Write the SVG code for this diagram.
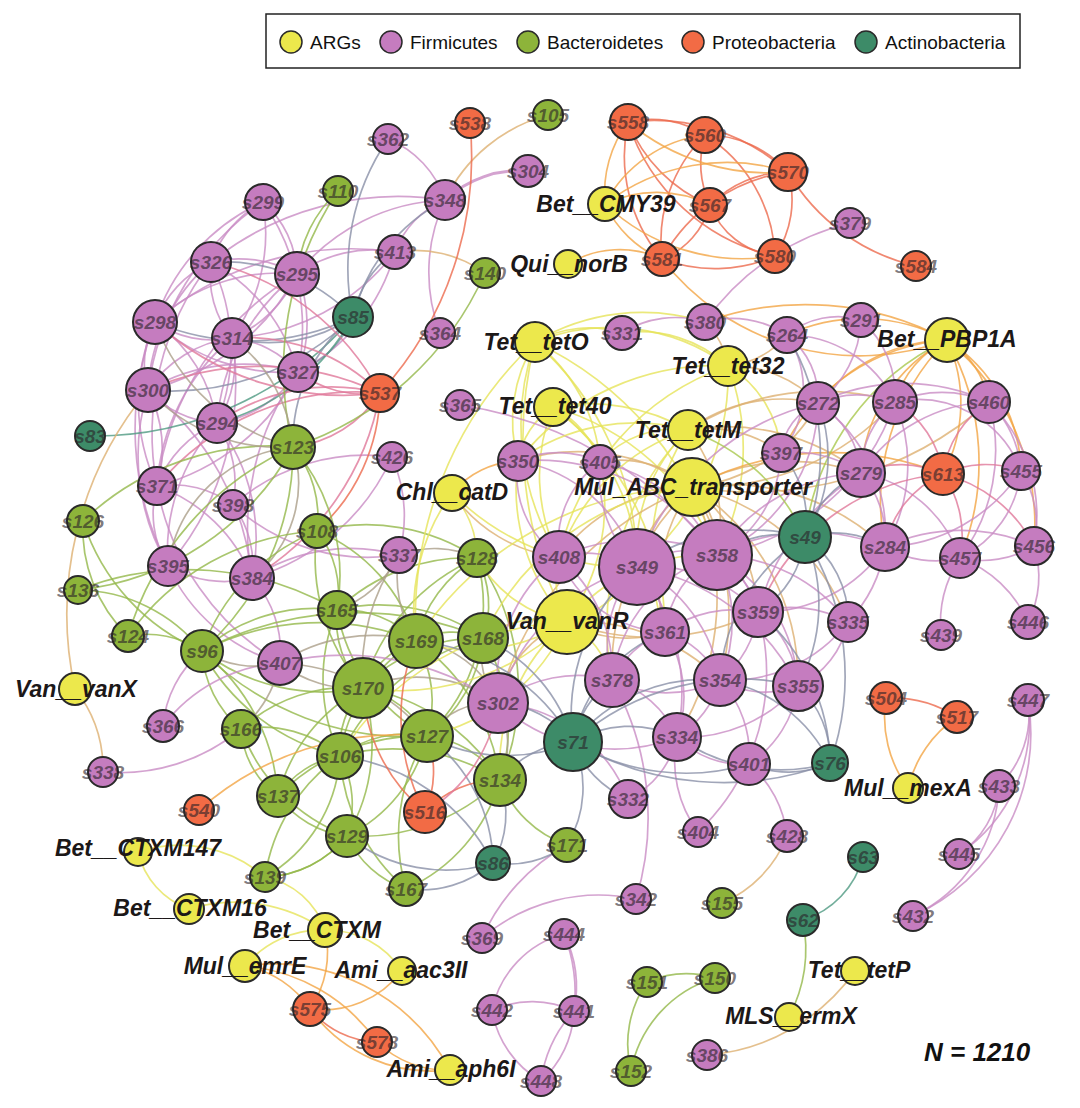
<svg xmlns="http://www.w3.org/2000/svg" width="1080" height="1108" viewBox="0 0 1080 1108">
<style>
.bg{fill:#fff}
.n circle{stroke:#2a2a2a;stroke-width:2}
.f circle{fill:#c57cbf}.b circle{fill:#8db43a}.p circle{fill:#f26b45}.a circle{fill:#3d8b68}.y circle{fill:#ece84c}
.n text{font-family:"Liberation Sans",Arial,sans-serif;font-weight:bold;font-style:italic;font-size:19px;fill:#2a2228;fill-opacity:.62;text-anchor:middle}
.y text{font-size:23px;fill:#1c1818;fill-opacity:1}
#edges path{fill:none;stroke-width:1.7;stroke-opacity:.8}
.ep{stroke:#c98cc4}.eg{stroke:#93b84a}.er{stroke:#ec6a4e}.eo{stroke:#f2a545}.ey{stroke:#e6e35a}.et{stroke:#ddb072}.ek{stroke:#8a90a8}.em{stroke:#ab9f8a}.eq{stroke:#e0789a}.ec{stroke:#4f9a82}.eyg{stroke:#a9c84e}
.leg text{font-family:"Liberation Sans",Arial,sans-serif;font-size:19px;fill:#111}
.leg circle{stroke:#2a2a2a;stroke-width:1.5}
.N{font-family:"Liberation Sans",Arial,sans-serif;font-weight:bold;font-style:italic;font-size:26px;fill:#111}
</style>
<rect class="bg" width="1080" height="1108"/>
<g id="legend" class="leg">
<rect x="266" y="14" width="754" height="54" fill="#fff" stroke="#222" stroke-width="1.5"/>
<circle cx="291" cy="42" r="11" fill="#ece84c"/><text x="310" y="49">ARGs</text>
<circle cx="391" cy="42" r="11" fill="#c57cbf"/><text x="410" y="49">Firmicutes</text>
<circle cx="528" cy="42" r="11" fill="#8db43a"/><text x="547" y="49">Bacteroidetes</text>
<circle cx="693" cy="42" r="11" fill="#f26b45"/><text x="712" y="49">Proteobacteria</text>
<circle cx="866" cy="42" r="11" fill="#3d8b68"/><text x="885" y="49">Actinobacteria</text>
</g>
<g id="edges">
<path class="ep" d="M263 202A110 110 0 0 0 211 262"/>
<path class="ep" d="M263 202A200 200 0 0 0 155 322"/>
<path class="ep" d="M263 202A180 180 0 0 1 232 338"/>
<path class="ep" d="M263 202A100 100 0 0 1 297 274"/>
<path class="ep" d="M263 202A220 220 0 0 1 298 372"/>
<path class="ep" d="M263 202A270 270 0 0 0 148 390"/>
<path class="ep" d="M211 262A110 110 0 0 0 155 322"/>
<path class="ep" d="M211 262A120 120 0 0 1 297 274"/>
<path class="ep" d="M211 262A100 100 0 0 0 232 338"/>
<path class="ep" d="M211 262A180 180 0 0 0 148 390"/>
<path class="ep" d="M211 262A180 180 0 0 1 298 372"/>
<path class="ep" d="M211 262A200 200 0 0 1 217 423"/>
<path class="ep" d="M211 262A280 280 0 0 0 157 486"/>
<path class="ep" d="M297 274A120 120 0 0 1 232 338"/>
<path class="ep" d="M297 274A180 180 0 0 0 155 322"/>
<path class="ep" d="M297 274A230 230 0 0 1 148 390"/>
<path class="ep" d="M297 274A130 130 0 0 1 298 372"/>
<path class="ep" d="M297 274A210 210 0 0 0 217 423"/>
<path class="ep" d="M297 274A290 290 0 0 0 157 486"/>
<path class="ep" d="M155 322A100 100 0 0 0 232 338"/>
<path class="ep" d="M155 322A90 90 0 0 0 148 390"/>
<path class="ep" d="M155 322A190 190 0 0 0 298 372"/>
<path class="ep" d="M155 322A150 150 0 0 1 217 423"/>
<path class="ep" d="M155 322A200 200 0 0 0 157 486"/>
<path class="ep" d="M155 322A300 300 0 0 0 168 566"/>
<path class="ep" d="M232 338A120 120 0 0 0 148 390"/>
<path class="ep" d="M232 338A100 100 0 0 1 298 372"/>
<path class="ep" d="M232 338A110 110 0 0 1 217 423"/>
<path class="ep" d="M232 338A210 210 0 0 0 157 486"/>
<path class="ep" d="M232 338A280 280 0 0 1 168 566"/>
<path class="ep" d="M148 390A100 100 0 0 0 217 423"/>
<path class="ep" d="M148 390A130 130 0 0 1 157 486"/>
<path class="ep" d="M148 390A220 220 0 0 0 168 566"/>
<path class="ep" d="M148 390A190 190 0 0 1 298 372"/>
<path class="ep" d="M148 390A270 270 0 0 1 252 578"/>
<path class="ep" d="M217 423A120 120 0 0 0 298 372"/>
<path class="ep" d="M217 423A110 110 0 0 0 157 486"/>
<path class="ep" d="M217 423A110 110 0 0 1 233 505"/>
<path class="ep" d="M217 423A190 190 0 0 0 168 566"/>
<path class="ep" d="M217 423A190 190 0 0 1 252 578"/>
<path class="ep" d="M157 486A100 100 0 0 0 168 566"/>
<path class="ep" d="M157 486A160 160 0 0 1 252 578"/>
<path class="ep" d="M157 486A100 100 0 0 1 233 505"/>
<path class="ep" d="M168 566A110 110 0 0 0 252 578"/>
<path class="ep" d="M233 505A100 100 0 0 1 252 578"/>
<path class="ep" d="M298 372A270 270 0 0 0 252 578"/>
<path class="ep" d="M298 372A220 220 0 0 1 157 486"/>
<path class="ep" d="M233 505A200 200 0 0 1 392 457"/>
<path class="ep" d="M252 578A220 220 0 0 0 392 457"/>
<path class="ep" d="M157 486A260 260 0 0 0 280 663"/>
<path class="ep" d="M168 566A180 180 0 0 0 280 663"/>
<path class="ep" d="M252 578A110 110 0 0 1 280 663"/>
<path class="ep" d="M252 578A180 180 0 0 1 399 555"/>
<path class="ep" d="M233 505A200 200 0 0 0 399 555"/>
<path class="ep" d="M445 200A100 100 0 0 0 388 139"/>
<path class="ep" d="M445 200A110 110 0 0 1 528 171" style="stroke-width:3"/>
<path class="et" d="M445 200A160 160 0 0 1 548 115"/>
<path class="ep" d="M445 200A90 90 0 0 0 395 252"/>
<path class="ep" d="M445 200A170 170 0 0 0 440 333"/>
<path class="ep" d="M445 200A200 200 0 0 0 297 274"/>
<path class="ep" d="M445 200A300 300 0 0 0 211 262"/>
<path class="ep" d="M395 252A130 130 0 0 0 297 274"/>
<path class="ep" d="M395 252A300 300 0 0 0 155 322"/>
<path class="ep" d="M395 252A220 220 0 0 1 232 338"/>
<path class="ep" d="M395 252A190 190 0 0 1 298 372"/>
<path class="et" d="M395 252A120 120 0 0 1 485 273"/>
<path class="ek" d="M395 252A100 100 0 0 0 353 317"/>
<path class="ek" d="M388 139A230 230 0 0 0 353 317"/>
<path class="ek" d="M445 200A180 180 0 0 0 353 317"/>
<path class="ek" d="M353 317A240 240 0 0 1 155 322"/>
<path class="ek" d="M353 317A260 260 0 0 1 148 390"/>
<path class="ek" d="M353 317A180 180 0 0 0 211 262"/>
<path class="ek" d="M353 317A150 150 0 0 1 232 338"/>
<path class="ek" d="M353 317A100 100 0 0 1 298 372"/>
<path class="ec" d="M353 317A220 220 0 0 1 217 423"/>
<path class="ec" d="M90 436A340 340 0 0 0 353 317"/>
<path class="ek" d="M353 317A160 160 0 0 0 293 447"/>
<path class="eq" d="M380 393A260 260 0 0 0 211 262"/>
<path class="eq" d="M380 393A280 280 0 0 1 155 322"/>
<path class="eq" d="M380 393A190 190 0 0 0 232 338"/>
<path class="eq" d="M380 393A280 280 0 0 0 148 390"/>
<path class="eq" d="M380 393A110 110 0 0 1 298 372"/>
<path class="eq" d="M380 393A200 200 0 0 0 217 423"/>
<path class="er" d="M380 393A350 350 0 0 0 470 123"/>
<path class="er" d="M380 393A190 190 0 0 1 317 531"/>
<path class="eq" d="M380 393A270 270 0 0 1 252 578"/>
<path class="eq" d="M380 393A120 120 0 0 1 293 447"/>
<path class="eq" d="M380 393A260 260 0 0 0 157 486"/>
<path class="eg" d="M293 447A320 320 0 0 1 338 191"/>
<path class="eg" d="M293 447A320 320 0 0 0 485 273"/>
<path class="eg" d="M293 447A270 270 0 0 0 83 521"/>
<path class="eg" d="M293 447A270 270 0 0 1 202 651"/>
<path class="eg" d="M293 447A110 110 0 0 1 317 531"/>
<path class="eg" d="M293 447A300 300 0 0 0 128 636"/>
<path class="eg" d="M293 447A200 200 0 0 1 337 610"/>
<path class="eg" d="M293 447A280 280 0 0 1 78 590"/>
<path class="em" d="M293 447A200 200 0 0 1 155 322"/>
<path class="em" d="M293 447A150 150 0 0 0 232 338"/>
<path class="em" d="M293 447A180 180 0 0 1 148 390"/>
<path class="em" d="M293 447A140 140 0 0 0 168 566"/>
<path class="em" d="M293 447A120 120 0 0 1 252 578"/>
<path class="eg" d="M338 191A130 130 0 0 0 297 274"/>
<path class="eg" d="M202 651A100 100 0 0 0 128 636"/>
<path class="eg" d="M202 651A210 210 0 0 1 83 521"/>
<path class="eg" d="M202 651A160 160 0 0 0 78 590"/>
<path class="eg" d="M202 651A170 170 0 0 1 337 610"/>
<path class="eg" d="M202 651A260 260 0 0 1 416 641"/>
<path class="eg" d="M202 651A200 200 0 0 0 363 688"/>
<path class="eg" d="M202 651A210 210 0 0 0 340 756"/>
<path class="eg" d="M202 651A110 110 0 0 0 241 729"/>
<path class="eg" d="M202 651A200 200 0 0 1 278 796"/>
<path class="eg" d="M202 651A290 290 0 0 0 427 736"/>
<path class="eg" d="M202 651A330 330 0 0 1 483 638"/>
<path class="eg" d="M202 651A200 200 0 0 1 317 531"/>
<path class="eg" d="M128 636A150 150 0 0 1 83 521"/>
<path class="eg" d="M128 636A250 250 0 0 1 317 531"/>
<path class="eg" d="M78 590A300 300 0 0 1 337 610"/>
<path class="eg" d="M317 531A100 100 0 0 1 337 610"/>
<path class="eg" d="M317 531A170 170 0 0 1 416 641"/>
<path class="eg" d="M317 531A200 200 0 0 0 363 688"/>
<path class="eg" d="M317 531A200 200 0 0 1 477 558"/>
<path class="eg" d="M337 610A100 100 0 0 1 416 641"/>
<path class="eg" d="M337 610A100 100 0 0 0 363 688"/>
<path class="eg" d="M337 610A180 180 0 0 1 483 638"/>
<path class="eg" d="M337 610A180 180 0 0 0 427 736"/>
<path class="eg" d="M337 610A180 180 0 0 0 340 756"/>
<path class="eg" d="M337 610A190 190 0 0 1 477 558"/>
<path class="eg" d="M416 641A80 80 0 0 1 483 638"/>
<path class="eg" d="M416 641A90 90 0 0 0 363 688"/>
<path class="eg" d="M416 641A120 120 0 0 1 427 736"/>
<path class="eg" d="M416 641A160 160 0 0 0 340 756"/>
<path class="eg" d="M416 641A200 200 0 0 1 500 780"/>
<path class="eg" d="M416 641A130 130 0 0 1 477 558"/>
<path class="eg" d="M483 638A160 160 0 0 0 363 688"/>
<path class="eg" d="M483 638A140 140 0 0 1 427 736"/>
<path class="eg" d="M483 638A170 170 0 0 1 500 780"/>
<path class="eg" d="M483 638A100 100 0 0 0 477 558"/>
<path class="eg" d="M483 638A220 220 0 0 0 340 756"/>
<path class="eg" d="M363 688A100 100 0 0 1 427 736"/>
<path class="eg" d="M363 688A90 90 0 0 0 340 756"/>
<path class="eg" d="M363 688A160 160 0 0 0 241 729"/>
<path class="eg" d="M363 688A170 170 0 0 0 278 796"/>
<path class="eg" d="M363 688A180 180 0 0 1 347 836"/>
<path class="eg" d="M363 688A200 200 0 0 1 500 780"/>
<path class="eg" d="M427 736A110 110 0 0 0 340 756"/>
<path class="eg" d="M427 736A100 100 0 0 1 500 780"/>
<path class="eg" d="M427 736A150 150 0 0 1 347 836"/>
<path class="eg" d="M427 736A200 200 0 0 0 278 796"/>
<path class="eg" d="M340 756A120 120 0 0 0 241 729"/>
<path class="eg" d="M340 756A90 90 0 0 0 278 796"/>
<path class="eg" d="M340 756A100 100 0 0 1 347 836"/>
<path class="eg" d="M340 756A200 200 0 0 1 500 780"/>
<path class="eg" d="M241 729A90 90 0 0 0 278 796"/>
<path class="eg" d="M241 729A180 180 0 0 0 347 836"/>
<path class="eg" d="M278 796A100 100 0 0 0 347 836"/>
<path class="eg" d="M500 780A200 200 0 0 1 347 836"/>
<path class="eg" d="M347 836A100 100 0 0 0 406 889"/>
<path class="eg" d="M500 780A170 170 0 0 1 406 889"/>
<path class="eg" d="M427 736A190 190 0 0 0 406 889"/>
<path class="eg" d="M340 756A190 190 0 0 0 406 889"/>
<path class="eg" d="M347 836A110 110 0 0 1 265 877"/>
<path class="eg" d="M340 756A180 180 0 0 0 265 877"/>
<path class="eg" d="M500 780A110 110 0 0 0 567 845"/>
<path class="eg" d="M265 877A110 110 0 0 0 347 836"/>
<path class="eg" d="M477 558A180 180 0 0 1 427 736"/>
<path class="eg" d="M477 558A200 200 0 0 0 363 688"/>
<path class="eg" d="M477 558A230 230 0 0 1 500 780"/>
<path class="em" d="M498 703A100 100 0 0 0 416 641"/>
<path class="em" d="M498 703A80 80 0 0 1 483 638"/>
<path class="em" d="M498 703A80 80 0 0 0 427 736"/>
<path class="em" d="M498 703A90 90 0 0 1 500 780"/>
<path class="em" d="M498 703A140 140 0 0 0 363 688"/>
<path class="ep" d="M280 663A160 160 0 0 0 163 726"/>
<path class="em" d="M280 663A100 100 0 0 1 202 651"/>
<path class="em" d="M280 663A170 170 0 0 1 416 641"/>
<path class="em" d="M280 663A120 120 0 0 0 363 688"/>
<path class="em" d="M280 663A120 120 0 0 1 241 729"/>
<path class="em" d="M280 663A200 200 0 0 1 427 736"/>
<path class="ep" d="M280 663A270 270 0 0 1 498 703"/>
<path class="ep" d="M163 726A110 110 0 0 1 202 651"/>
<path class="ep" d="M103 772A190 190 0 0 0 241 729"/>
<path class="em" d="M399 555A110 110 0 0 1 337 610"/>
<path class="em" d="M399 555A120 120 0 0 0 416 641"/>
<path class="em" d="M399 555A200 200 0 0 0 363 688"/>
<path class="em" d="M399 555A100 100 0 0 1 477 558"/>
<path class="ep" d="M399 555A150 150 0 0 0 392 457"/>
<path class="eo" d="M452 493A90 90 0 0 1 518 461"/>
<path class="ey" d="M452 493A100 100 0 0 1 477 558"/>
<path class="ey" d="M452 493A250 250 0 0 0 637 567"/>
<path class="et" d="M452 493A150 150 0 0 0 559 557"/>
<path class="ey" d="M452 493A200 200 0 0 0 416 641"/>
<path class="ey" d="M535 342A110 110 0 0 1 622 333"/>
<path class="ey" d="M535 342A210 210 0 0 1 705 322"/>
<path class="ey" d="M535 342A150 150 0 0 0 518 461"/>
<path class="ey" d="M535 342A300 300 0 0 1 637 567"/>
<path class="ey" d="M535 342A250 250 0 0 0 559 557"/>
<path class="ey" d="M535 342A340 340 0 0 1 717 555"/>
<path class="ey" d="M535 342A170 170 0 0 1 600 462"/>
<path class="ey" d="M535 342A400 400 0 0 0 567 622"/>
<path class="ey" d="M535 342A200 200 0 0 1 728 366"/>
<path class="ey" d="M535 342A380 380 0 0 0 416 641"/>
<path class="ey" d="M553 407A80 80 0 0 0 518 461"/>
<path class="ey" d="M553 407A200 200 0 0 1 637 567"/>
<path class="ey" d="M553 407A250 250 0 0 1 717 555"/>
<path class="ey" d="M553 407A100 100 0 0 1 600 462"/>
<path class="ey" d="M553 407A180 180 0 0 0 559 557"/>
<path class="ey" d="M553 407A280 280 0 0 1 665 632"/>
<path class="ey" d="M553 407A200 200 0 0 1 688 430"/>
<path class="ep" d="M460 405A400 400 0 0 1 717 555"/>
<path class="ey" d="M728 366A130 130 0 0 0 622 333"/>
<path class="et" d="M728 366A80 80 0 0 0 705 322"/>
<path class="ey" d="M728 366A250 250 0 0 1 637 567"/>
<path class="ey" d="M728 366A230 230 0 0 1 717 555"/>
<path class="et" d="M728 366A120 120 0 0 1 818 403"/>
<path class="et" d="M728 366A90 90 0 0 0 787 335"/>
<path class="ey" d="M728 366A110 110 0 0 1 781 453"/>
<path class="ey" d="M728 366A250 250 0 0 0 518 461"/>
<path class="ey" d="M728 366A260 260 0 0 0 559 557"/>
<path class="ey" d="M688 430A170 170 0 0 0 637 567"/>
<path class="et" d="M688 430A150 150 0 0 1 717 555"/>
<path class="ey" d="M688 430A200 200 0 0 0 518 461"/>
<path class="ey" d="M688 430A100 100 0 0 0 600 462"/>
<path class="ey" d="M688 430A200 200 0 0 0 559 557"/>
<path class="et" d="M688 430A160 160 0 0 1 818 403"/>
<path class="et" d="M688 430A120 120 0 0 1 781 453"/>
<path class="et" d="M688 430A250 250 0 0 1 895 402"/>
<path class="et" d="M688 430A220 220 0 0 1 861 473"/>
<path class="ey" d="M688 430A230 230 0 0 0 665 632"/>
<path class="ey" d="M688 430A280 280 0 0 0 612 680"/>
<path class="et" d="M692 487A120 120 0 0 0 637 567"/>
<path class="et" d="M692 487A90 90 0 0 1 717 555"/>
<path class="et" d="M692 487A200 200 0 0 0 518 461"/>
<path class="et" d="M692 487A110 110 0 0 0 600 462"/>
<path class="et" d="M692 487A170 170 0 0 0 559 557"/>
<path class="et" d="M692 487A210 210 0 0 1 861 473"/>
<path class="et" d="M692 487A260 260 0 0 0 895 402"/>
<path class="et" d="M692 487A160 160 0 0 0 818 403"/>
<path class="et" d="M692 487A230 230 0 0 1 885 547"/>
<path class="et" d="M692 487A170 170 0 0 1 758 612"/>
<path class="et" d="M692 487A170 170 0 0 0 665 632"/>
<path class="et" d="M692 487A240 240 0 0 1 720 680"/>
<path class="et" d="M692 487A250 250 0 0 0 612 680"/>
<path class="et" d="M692 487A320 320 0 0 0 498 703"/>
<path class="et" d="M692 487A230 230 0 0 1 798 686"/>
<path class="et" d="M692 487A260 260 0 0 1 677 737"/>
<path class="ey" d="M692 487A340 340 0 0 0 416 641"/>
<path class="ey" d="M692 487A260 260 0 0 0 483 638"/>
<path class="et" d="M692 487A220 220 0 0 1 848 622"/>
<path class="et" d="M692 487A360 360 0 0 0 989 402"/>
<path class="eo" d="M692 487A300 300 0 0 1 943 474"/>
<path class="ey" d="M567 622A110 110 0 0 0 637 567"/>
<path class="ey" d="M567 622A180 180 0 0 1 717 555"/>
<path class="ey" d="M567 622A90 90 0 0 1 559 557"/>
<path class="et" d="M567 622A110 110 0 0 0 498 703"/>
<path class="ey" d="M567 622A90 90 0 0 1 612 680"/>
<path class="et" d="M567 622A120 120 0 0 0 665 632"/>
<path class="ey" d="M567 622A180 180 0 0 1 416 641"/>
<path class="ey" d="M567 622A100 100 0 0 0 483 638"/>
<path class="ey" d="M567 622A240 240 0 0 1 363 688"/>
<path class="ey" d="M567 622A200 200 0 0 1 427 736"/>
<path class="ey" d="M567 622A190 190 0 0 0 500 780"/>
<path class="ey" d="M567 622A130 130 0 0 1 477 558"/>
<path class="et" d="M567 622A240 240 0 0 0 758 612"/>
<path class="et" d="M567 622A200 200 0 0 1 720 680"/>
<path class="ey" d="M567 622A200 200 0 0 1 518 461"/>
<path class="ey" d="M567 622A200 200 0 0 0 600 462"/>
<path class="ey" d="M567 622A280 280 0 0 0 340 756"/>
<path class="eo" d="M947 340A180 180 0 0 0 787 335"/>
<path class="eo" d="M947 340A300 300 0 0 0 705 322"/>
<path class="eo" d="M947 340A170 170 0 0 0 818 403"/>
<path class="eo" d="M947 340A100 100 0 0 0 895 402"/>
<path class="eo" d="M947 340A90 90 0 0 1 989 402"/>
<path class="eo" d="M947 340A160 160 0 0 0 861 473"/>
<path class="eo" d="M947 340A150 150 0 0 1 943 474"/>
<path class="eo" d="M947 340A160 160 0 0 1 1021 471"/>
<path class="eo" d="M947 340A240 240 0 0 1 1034 546"/>
<path class="eo" d="M947 340A250 250 0 0 1 960 558"/>
<path class="eo" d="M947 340A230 230 0 0 0 885 547"/>
<path class="eyg" d="M947 340A250 250 0 0 0 805 537"/>
<path class="eo" d="M947 340A200 200 0 0 0 781 453"/>
<path class="eo" d="M662 259A250 250 0 0 0 947 340"/>
<path class="er" d="M628 122A100 100 0 0 1 705 135"/>
<path class="er" d="M628 122A200 200 0 0 1 788 172"/>
<path class="er" d="M628 122A150 150 0 0 0 710 205"/>
<path class="er" d="M628 122A200 200 0 0 0 775 256"/>
<path class="er" d="M628 122A160 160 0 0 0 662 259"/>
<path class="er" d="M705 135A110 110 0 0 1 788 172"/>
<path class="er" d="M705 135A100 100 0 0 0 710 205"/>
<path class="er" d="M705 135A150 150 0 0 1 775 256"/>
<path class="er" d="M705 135A150 150 0 0 0 662 259"/>
<path class="er" d="M788 172A110 110 0 0 0 710 205"/>
<path class="er" d="M788 172A100 100 0 0 1 775 256"/>
<path class="er" d="M788 172A170 170 0 0 0 662 259"/>
<path class="er" d="M788 172A200 200 0 0 0 916 266"/>
<path class="er" d="M710 205A80 80 0 0 0 775 256"/>
<path class="er" d="M710 205A80 80 0 0 1 662 259"/>
<path class="er" d="M775 256A150 150 0 0 1 662 259"/>
<path class="eo" d="M605 204A120 120 0 0 1 628 122"/>
<path class="eo" d="M605 204A130 130 0 0 1 705 135"/>
<path class="eo" d="M605 204A200 200 0 0 1 788 172"/>
<path class="eo" d="M605 204A110 110 0 0 0 662 259"/>
<path class="eo" d="M605 204A120 120 0 0 1 710 205"/>
<path class="eo" d="M605 204A200 200 0 0 0 775 256"/>
<path class="eo" d="M568 264A100 100 0 0 1 662 259"/>
<path class="eo" d="M628 122A220 220 0 0 0 788 172"/>
<path class="ep" d="M850 223A250 250 0 0 0 705 322"/>
<path class="ep" d="M818 403A100 100 0 0 1 895 402"/>
<path class="ep" d="M818 403A90 90 0 0 1 861 473"/>
<path class="ep" d="M818 403A60 60 0 0 0 781 453"/>
<path class="ep" d="M818 403A200 200 0 0 1 989 402"/>
<path class="ep" d="M818 403A80 80 0 0 0 787 335"/>
<path class="ep" d="M818 403A160 160 0 0 1 885 547"/>
<path class="ep" d="M818 403A170 170 0 0 1 717 555"/>
<path class="ep" d="M818 403A250 250 0 0 0 637 567"/>
<path class="ep" d="M895 402A120 120 0 0 1 989 402"/>
<path class="ep" d="M895 402A90 90 0 0 0 861 473"/>
<path class="ep" d="M895 402A110 110 0 0 1 1021 471"/>
<path class="ep" d="M895 402A160 160 0 0 1 885 547"/>
<path class="ep" d="M895 402A120 120 0 0 0 787 335"/>
<path class="ep" d="M895 402A100 100 0 0 0 861 320"/>
<path class="ep" d="M895 402A230 230 0 0 1 717 555"/>
<path class="ep" d="M989 402A110 110 0 0 1 1021 471"/>
<path class="ep" d="M989 402A160 160 0 0 1 1034 546"/>
<path class="ep" d="M989 402A180 180 0 0 1 960 558"/>
<path class="ep" d="M989 402A160 160 0 0 0 861 473"/>
<path class="ep" d="M861 473A120 120 0 0 0 781 453"/>
<path class="ep" d="M861 473A100 100 0 0 1 885 547"/>
<path class="ep" d="M861 473A130 130 0 0 1 960 558"/>
<path class="ep" d="M861 473A180 180 0 0 0 717 555"/>
<path class="ep" d="M861 473A230 230 0 0 0 758 612"/>
<path class="eq" d="M943 474A100 100 0 0 0 861 473"/>
<path class="eq" d="M943 474A100 100 0 0 1 1021 471"/>
<path class="eq" d="M943 474A110 110 0 0 1 960 558"/>
<path class="eq" d="M943 474A100 100 0 0 0 885 547"/>
<path class="eq" d="M943 474A140 140 0 0 1 1034 546"/>
<path class="eq" d="M943 474A100 100 0 0 0 895 402"/>
<path class="eq" d="M943 474A100 100 0 0 1 989 402"/>
<path class="eq" d="M943 474A220 220 0 0 0 758 612"/>
<path class="ep" d="M1021 471A100 100 0 0 1 1034 546"/>
<path class="ep" d="M1021 471A110 110 0 0 1 960 558"/>
<path class="ep" d="M1021 471A170 170 0 0 1 885 547"/>
<path class="ep" d="M885 547A100 100 0 0 0 960 558"/>
<path class="ep" d="M885 547A180 180 0 0 1 1034 546"/>
<path class="ep" d="M885 547A140 140 0 0 1 848 622"/>
<path class="ep" d="M885 547A150 150 0 0 1 758 612"/>
<path class="ep" d="M885 547A200 200 0 0 0 717 555"/>
<path class="ep" d="M960 558A100 100 0 0 0 1034 546"/>
<path class="ep" d="M960 558A120 120 0 0 0 941 635"/>
<path class="ep" d="M1034 546A100 100 0 0 1 1028 622"/>
<path class="ep" d="M960 558A120 120 0 0 1 1028 622"/>
<path class="ep" d="M848 622A120 120 0 0 0 758 612"/>
<path class="ep" d="M848 622A90 90 0 0 1 798 686"/>
<path class="ep" d="M848 622A150 150 0 0 1 720 680"/>
<path class="ep" d="M758 612A120 120 0 0 0 665 632"/>
<path class="ep" d="M758 612A100 100 0 0 1 720 680"/>
<path class="ep" d="M758 612A100 100 0 0 1 798 686"/>
<path class="ep" d="M758 612A100 100 0 0 0 717 555"/>
<path class="ep" d="M665 632A100 100 0 0 0 612 680"/>
<path class="ep" d="M665 632A90 90 0 0 1 720 680"/>
<path class="ep" d="M665 632A120 120 0 0 1 677 737"/>
<path class="ep" d="M612 680A120 120 0 0 0 720 680"/>
<path class="ep" d="M612 680A100 100 0 0 1 677 737"/>
<path class="ep" d="M612 680A130 130 0 0 0 498 703"/>
<path class="ep" d="M720 680A90 90 0 0 0 798 686"/>
<path class="ep" d="M720 680A100 100 0 0 1 677 737"/>
<path class="ep" d="M720 680A110 110 0 0 1 749 764"/>
<path class="ep" d="M798 686A110 110 0 0 1 749 764"/>
<path class="ep" d="M798 686A150 150 0 0 1 677 737"/>
<path class="ep" d="M677 737A90 90 0 0 0 749 764"/>
<path class="ep" d="M677 737A90 90 0 0 1 628 799"/>
<path class="ep" d="M677 737A120 120 0 0 0 698 832"/>
<path class="ep" d="M637 567A90 90 0 0 1 717 555"/>
<path class="ep" d="M637 567A100 100 0 0 0 559 557"/>
<path class="ep" d="M637 567A90 90 0 0 1 665 632"/>
<path class="ep" d="M637 567A120 120 0 0 0 612 680"/>
<path class="ep" d="M637 567A150 150 0 0 1 758 612"/>
<path class="ep" d="M637 567A150 150 0 0 1 720 680"/>
<path class="ep" d="M637 567A200 200 0 0 0 498 703"/>
<path class="ep" d="M637 567A150 150 0 0 0 518 461"/>
<path class="ep" d="M637 567A130 130 0 0 1 600 462"/>
<path class="ep" d="M637 567A200 200 0 0 1 677 737"/>
<path class="ep" d="M637 567A220 220 0 0 1 798 686"/>
<path class="ep" d="M717 555A100 100 0 0 1 758 612"/>
<path class="ep" d="M717 555A100 100 0 0 0 665 632"/>
<path class="ep" d="M717 555A150 150 0 0 1 720 680"/>
<path class="ep" d="M717 555A160 160 0 0 1 798 686"/>
<path class="ep" d="M717 555A150 150 0 0 0 612 680"/>
<path class="ep" d="M717 555A200 200 0 0 0 559 557"/>
<path class="ep" d="M717 555A220 220 0 0 0 518 461"/>
<path class="ep" d="M717 555A170 170 0 0 0 600 462"/>
<path class="ep" d="M717 555A170 170 0 0 1 848 622"/>
<path class="ep" d="M518 461A100 100 0 0 1 600 462"/>
<path class="ep" d="M518 461A100 100 0 0 0 559 557"/>
<path class="ep" d="M600 462A100 100 0 0 0 559 557"/>
<path class="ep" d="M559 557A160 160 0 0 0 498 703"/>
<path class="ep" d="M559 557A150 150 0 0 1 612 680"/>
<path class="ep" d="M559 557A120 120 0 0 0 665 632"/>
<path class="ep" d="M498 703A170 170 0 0 0 677 737"/>
<path class="ep" d="M781 453A100 100 0 0 0 787 335"/>
<path class="ep" d="M781 453A120 120 0 0 1 717 555"/>
<path class="ep" d="M861 320A80 80 0 0 0 787 335"/>
<path class="ep" d="M861 320A110 110 0 0 1 818 403"/>
<path class="ep" d="M787 335A100 100 0 0 0 705 322"/>
<path class="ep" d="M705 322A100 100 0 0 0 622 333"/>
<path class="ep" d="M749 764A110 110 0 0 1 787 836"/>
<path class="ep" d="M698 832A220 220 0 0 0 758 612"/>
<path class="ep" d="M636 899A180 180 0 0 0 482 938"/>
<path class="ep" d="M636 899A280 280 0 0 0 612 680"/>
<path class="ep" d="M482 938A200 200 0 0 1 567 845"/>
<path class="ep" d="M628 799A150 150 0 0 0 498 703"/>
<path class="ek" d="M805 537A110 110 0 0 0 717 555"/>
<path class="ek" d="M805 537A100 100 0 0 1 885 547"/>
<path class="ek" d="M805 537A100 100 0 0 1 861 473"/>
<path class="ek" d="M805 537A150 150 0 0 0 818 403"/>
<path class="ek" d="M805 537A100 100 0 0 1 758 612"/>
<path class="ek" d="M805 537A170 170 0 0 1 798 686"/>
<path class="ek" d="M805 537A180 180 0 0 0 720 680"/>
<path class="ek" d="M805 537A100 100 0 0 0 781 453"/>
<path class="ek" d="M805 537A260 260 0 0 1 830 763"/>
<path class="ek" d="M805 537A230 230 0 0 0 787 335"/>
<path class="ek" d="M805 537A100 100 0 0 1 848 622"/>
<path class="ek" d="M805 537A200 200 0 0 0 637 567"/>
<path class="eyg" d="M805 537A200 200 0 0 0 688 430"/>
<path class="ek" d="M573 742A100 100 0 0 0 498 703"/>
<path class="ek" d="M573 742A100 100 0 0 1 612 680"/>
<path class="ek" d="M573 742A110 110 0 0 1 677 737"/>
<path class="ek" d="M573 742A100 100 0 0 0 500 780"/>
<path class="ek" d="M573 742A150 150 0 0 1 665 632"/>
<path class="ek" d="M573 742A200 200 0 0 1 637 567"/>
<path class="ek" d="M573 742A170 170 0 0 1 720 680"/>
<path class="ek" d="M573 742A250 250 0 0 1 798 686"/>
<path class="ek" d="M573 742A220 220 0 0 0 749 764"/>
<path class="ek" d="M573 742A300 300 0 0 0 830 763"/>
<path class="ek" d="M573 742A100 100 0 0 0 628 799"/>
<path class="ek" d="M573 742A170 170 0 0 1 427 736"/>
<path class="ek" d="M573 742A160 160 0 0 0 483 638"/>
<path class="ek" d="M573 742A200 200 0 0 0 416 641"/>
<path class="ek" d="M573 742A110 110 0 0 1 567 845"/>
<path class="ek" d="M830 763A100 100 0 0 0 798 686"/>
<path class="ek" d="M830 763A100 100 0 0 1 749 764"/>
<path class="ek" d="M830 763A150 150 0 0 0 720 680"/>
<path class="ek" d="M830 763A180 180 0 0 1 677 737"/>
<path class="ek" d="M830 763A200 200 0 0 0 758 612"/>
<path class="ek" d="M493 863A100 100 0 0 0 500 780"/>
<path class="ek" d="M493 863A110 110 0 0 1 406 889"/>
<path class="ek" d="M493 863A160 160 0 0 0 427 736"/>
<path class="ek" d="M493 863A160 160 0 0 1 347 836"/>
<path class="ek" d="M493 863A200 200 0 0 0 340 756"/>
<path class="ek" d="M493 863A100 100 0 0 0 567 845"/>
<path class="er" d="M425 812A100 100 0 0 0 427 736"/>
<path class="er" d="M425 812A200 200 0 0 1 416 641"/>
<path class="er" d="M425 812A100 100 0 0 1 500 780"/>
<path class="eq" d="M425 812A150 150 0 0 0 498 703"/>
<path class="er" d="M425 812A170 170 0 0 1 363 688"/>
<path class="eo" d="M199 810A300 300 0 0 1 427 736"/>
<path class="ep" d="M564 934A100 100 0 0 0 492 1010"/>
<path class="ep" d="M564 934A120 120 0 0 1 574 1011"/>
<path class="ep" d="M564 934A160 160 0 0 1 574 1011"/>
<path class="ep" d="M492 1010A100 100 0 0 1 574 1011"/>
<path class="ep" d="M492 1010A100 100 0 0 0 541 1081"/>
<path class="ep" d="M574 1011A100 100 0 0 1 541 1081"/>
<path class="ep" d="M574 1011A130 130 0 0 0 541 1081"/>
<path class="eg" d="M647 982A100 100 0 0 1 715 978"/>
<path class="eg" d="M647 982A110 110 0 0 0 631 1071"/>
<path class="eg" d="M715 978A120 120 0 0 0 631 1071"/>
<path class="ec" d="M803 920A90 90 0 0 0 863 857"/>
<path class="eg" d="M803 920A150 150 0 0 1 789 1017"/>
<path class="et" d="M855 971A200 200 0 0 1 707 1055"/>
<path class="et" d="M787 836A120 120 0 0 1 722 903"/>
<path class="ep" d="M1028 700A200 200 0 0 1 913 916"/>
<path class="ep" d="M1028 700A160 160 0 0 1 959 854"/>
<path class="ep" d="M1028 700A100 100 0 0 1 999 786"/>
<path class="ep" d="M999 786A90 90 0 0 1 959 854"/>
<path class="ep" d="M999 786A150 150 0 0 1 913 916"/>
<path class="er" d="M886 698A120 120 0 0 1 957 717"/>
<path class="eo" d="M886 698A120 120 0 0 0 908 788"/>
<path class="eo" d="M957 717A120 120 0 0 0 908 788"/>
<path class="ey" d="M138 852A130 130 0 0 1 265 877"/>
<path class="ey" d="M138 852A80 80 0 0 0 189 909"/>
<path class="ey" d="M189 909A160 160 0 0 1 325 930"/>
<path class="ey" d="M265 877A80 80 0 0 1 325 930"/>
<path class="ey" d="M325 930A100 100 0 0 0 245 966"/>
<path class="ey" d="M325 930A90 90 0 0 1 402 971"/>
<path class="eo" d="M325 930A100 100 0 0 1 310 1009"/>
<path class="eo" d="M245 966A100 100 0 0 1 310 1009"/>
<path class="eo" d="M245 966A200 200 0 0 1 450 1070"/>
<path class="eo" d="M245 966A180 180 0 0 1 377 1042"/>
<path class="eo" d="M402 971A100 100 0 0 1 310 1009"/>
<path class="er" d="M310 1009A90 90 0 0 0 377 1042"/>
<path class="eo" d="M310 1009A150 150 0 0 0 450 1070"/>
<path class="eo" d="M377 1042A100 100 0 0 0 450 1070"/>
<path class="eg" d="M265 877A150 150 0 0 0 340 756"/>
<path class="et" d="M75 689A350 350 0 0 1 148 390"/>
<path class="et" d="M75 689A130 130 0 0 1 103 772"/>
</g>
<g id="nodes">
<g id="s362" class="n f"><circle cx="388" cy="139" r="15"/><text x="388" y="146">s362</text></g>
<g id="s304" class="n f"><circle cx="528" cy="171" r="16"/><text x="528" y="178">s304</text></g>
<g id="s348" class="n f"><circle cx="445" cy="200" r="20"/><text x="445" y="207">s348</text></g>
<g id="s299" class="n f"><circle cx="263" cy="202" r="18"/><text x="263" y="209">s299</text></g>
<g id="s326" class="n f"><circle cx="211" cy="262" r="20"/><text x="211" y="269">s326</text></g>
<g id="s295" class="n f"><circle cx="297" cy="274" r="22"/><text x="297" y="281">s295</text></g>
<g id="s413" class="n f"><circle cx="395" cy="252" r="17"/><text x="395" y="259">s413</text></g>
<g id="s298" class="n f"><circle cx="155" cy="322" r="22"/><text x="155" y="329">s298</text></g>
<g id="s314" class="n f"><circle cx="232" cy="338" r="20"/><text x="232" y="345">s314</text></g>
<g id="s327" class="n f"><circle cx="298" cy="372" r="20"/><text x="298" y="379">s327</text></g>
<g id="s364" class="n f"><circle cx="440" cy="333" r="15"/><text x="440" y="340">s364</text></g>
<g id="s300" class="n f"><circle cx="148" cy="390" r="22"/><text x="148" y="397">s300</text></g>
<g id="s294" class="n f"><circle cx="217" cy="423" r="20"/><text x="217" y="430">s294</text></g>
<g id="s371" class="n f"><circle cx="157" cy="486" r="19"/><text x="157" y="493">s371</text></g>
<g id="s398" class="n f"><circle cx="233" cy="505" r="15"/><text x="233" y="512">s398</text></g>
<g id="s395" class="n f"><circle cx="168" cy="566" r="20"/><text x="168" y="573">s395</text></g>
<g id="s384" class="n f"><circle cx="252" cy="578" r="22"/><text x="252" y="585">s384</text></g>
<g id="s426" class="n f"><circle cx="392" cy="457" r="15"/><text x="392" y="464">s426</text></g>
<g id="s365" class="n f"><circle cx="460" cy="405" r="15"/><text x="460" y="412">s365</text></g>
<g id="s350" class="n f"><circle cx="518" cy="461" r="20"/><text x="518" y="468">s350</text></g>
<g id="s405" class="n f"><circle cx="600" cy="462" r="17"/><text x="600" y="469">s405</text></g>
<g id="s331" class="n f"><circle cx="622" cy="333" r="17"/><text x="622" y="340">s331</text></g>
<g id="s380" class="n f"><circle cx="705" cy="322" r="18"/><text x="705" y="329">s380</text></g>
<g id="s379" class="n f"><circle cx="850" cy="223" r="15"/><text x="850" y="230">s379</text></g>
<g id="s264" class="n f"><circle cx="787" cy="335" r="18"/><text x="787" y="342">s264</text></g>
<g id="s291" class="n f"><circle cx="861" cy="320" r="17"/><text x="861" y="327">s291</text></g>
<g id="s272" class="n f"><circle cx="818" cy="403" r="21"/><text x="818" y="410">s272</text></g>
<g id="s285" class="n f"><circle cx="895" cy="402" r="22"/><text x="895" y="409">s285</text></g>
<g id="s460" class="n f"><circle cx="989" cy="402" r="21"/><text x="989" y="409">s460</text></g>
<g id="s397" class="n f"><circle cx="781" cy="453" r="19"/><text x="781" y="460">s397</text></g>
<g id="s279" class="n f"><circle cx="861" cy="473" r="24"/><text x="861" y="480">s279</text></g>
<g id="s455" class="n f"><circle cx="1021" cy="471" r="19"/><text x="1021" y="478">s455</text></g>
<g id="s284" class="n f"><circle cx="885" cy="547" r="24"/><text x="885" y="554">s284</text></g>
<g id="s457" class="n f"><circle cx="960" cy="558" r="20"/><text x="960" y="565">s457</text></g>
<g id="s456" class="n f"><circle cx="1034" cy="546" r="19"/><text x="1034" y="553">s456</text></g>
<g id="s337" class="n f"><circle cx="399" cy="555" r="18"/><text x="399" y="562">s337</text></g>
<g id="s408" class="n f"><circle cx="559" cy="557" r="26"/><text x="559" y="564">s408</text></g>
<g id="s349" class="n f"><circle cx="637" cy="567" r="38"/><text x="637" y="574">s349</text></g>
<g id="s358" class="n f"><circle cx="717" cy="555" r="35"/><text x="717" y="562">s358</text></g>
<g id="s359" class="n f"><circle cx="758" cy="612" r="25"/><text x="758" y="619">s359</text></g>
<g id="s361" class="n f"><circle cx="665" cy="632" r="24"/><text x="665" y="639">s361</text></g>
<g id="s335" class="n f"><circle cx="848" cy="622" r="20"/><text x="848" y="629">s335</text></g>
<g id="s439" class="n f"><circle cx="941" cy="635" r="15"/><text x="941" y="642">s439</text></g>
<g id="s446" class="n f"><circle cx="1028" cy="622" r="17"/><text x="1028" y="629">s446</text></g>
<g id="s407" class="n f"><circle cx="280" cy="663" r="22"/><text x="280" y="670">s407</text></g>
<g id="s366" class="n f"><circle cx="163" cy="726" r="16"/><text x="163" y="733">s366</text></g>
<g id="s338" class="n f"><circle cx="103" cy="772" r="15"/><text x="103" y="779">s338</text></g>
<g id="s302" class="n f"><circle cx="498" cy="703" r="30"/><text x="498" y="710">s302</text></g>
<g id="s378" class="n f"><circle cx="612" cy="680" r="27"/><text x="612" y="687">s378</text></g>
<g id="s354" class="n f"><circle cx="720" cy="680" r="26"/><text x="720" y="687">s354</text></g>
<g id="s355" class="n f"><circle cx="798" cy="686" r="25"/><text x="798" y="693">s355</text></g>
<g id="s334" class="n f"><circle cx="677" cy="737" r="24"/><text x="677" y="744">s334</text></g>
<g id="s401" class="n f"><circle cx="749" cy="764" r="21"/><text x="749" y="771">s401</text></g>
<g id="s447" class="n f"><circle cx="1028" cy="700" r="16"/><text x="1028" y="707">s447</text></g>
<g id="s433" class="n f"><circle cx="999" cy="786" r="16"/><text x="999" y="793">s433</text></g>
<g id="s332" class="n f"><circle cx="628" cy="799" r="19"/><text x="628" y="806">s332</text></g>
<g id="s404" class="n f"><circle cx="698" cy="832" r="15"/><text x="698" y="839">s404</text></g>
<g id="s428" class="n f"><circle cx="787" cy="836" r="16"/><text x="787" y="843">s428</text></g>
<g id="s445" class="n f"><circle cx="959" cy="854" r="15"/><text x="959" y="861">s445</text></g>
<g id="s432" class="n f"><circle cx="913" cy="916" r="15"/><text x="913" y="923">s432</text></g>
<g id="s342" class="n f"><circle cx="636" cy="899" r="15"/><text x="636" y="906">s342</text></g>
<g id="s369" class="n f"><circle cx="482" cy="938" r="15"/><text x="482" y="945">s369</text></g>
<g id="s444" class="n f"><circle cx="564" cy="934" r="15"/><text x="564" y="941">s444</text></g>
<g id="s442" class="n f"><circle cx="492" cy="1010" r="15"/><text x="492" y="1017">s442</text></g>
<g id="s441" class="n f"><circle cx="574" cy="1011" r="15"/><text x="574" y="1018">s441</text></g>
<g id="s448" class="n f"><circle cx="541" cy="1081" r="15"/><text x="541" y="1088">s448</text></g>
<g id="s386" class="n f"><circle cx="707" cy="1055" r="15"/><text x="707" y="1062">s386</text></g>
<g id="s105" class="n b"><circle cx="548" cy="115" r="15"/><text x="548" y="122">s105</text></g>
<g id="s110" class="n b"><circle cx="338" cy="191" r="15"/><text x="338" y="198">s110</text></g>
<g id="s140" class="n b"><circle cx="485" cy="273" r="15"/><text x="485" y="280">s140</text></g>
<g id="s123" class="n b"><circle cx="293" cy="447" r="22"/><text x="293" y="454">s123</text></g>
<g id="s126" class="n b"><circle cx="83" cy="521" r="16"/><text x="83" y="528">s126</text></g>
<g id="s108" class="n b"><circle cx="317" cy="531" r="17"/><text x="317" y="538">s108</text></g>
<g id="s136" class="n b"><circle cx="78" cy="590" r="14"/><text x="78" y="597">s136</text></g>
<g id="s128" class="n b"><circle cx="477" cy="558" r="19"/><text x="477" y="565">s128</text></g>
<g id="s124" class="n b"><circle cx="128" cy="636" r="16"/><text x="128" y="643">s124</text></g>
<g id="s165" class="n b"><circle cx="337" cy="610" r="19"/><text x="337" y="617">s165</text></g>
<g id="s96" class="n b"><circle cx="202" cy="651" r="21"/><text x="202" y="658">s96</text></g>
<g id="s169" class="n b"><circle cx="416" cy="641" r="27"/><text x="416" y="648">s169</text></g>
<g id="s168" class="n b"><circle cx="483" cy="638" r="25"/><text x="483" y="645">s168</text></g>
<g id="s170" class="n b"><circle cx="363" cy="688" r="30"/><text x="363" y="695">s170</text></g>
<g id="s166" class="n b"><circle cx="241" cy="729" r="19"/><text x="241" y="736">s166</text></g>
<g id="s106" class="n b"><circle cx="340" cy="756" r="23"/><text x="340" y="763">s106</text></g>
<g id="s127" class="n b"><circle cx="427" cy="736" r="26"/><text x="427" y="743">s127</text></g>
<g id="s134" class="n b"><circle cx="500" cy="780" r="26"/><text x="500" y="787">s134</text></g>
<g id="s137" class="n b"><circle cx="278" cy="796" r="21"/><text x="278" y="803">s137</text></g>
<g id="s129" class="n b"><circle cx="347" cy="836" r="21"/><text x="347" y="843">s129</text></g>
<g id="s171" class="n b"><circle cx="567" cy="845" r="17"/><text x="567" y="852">s171</text></g>
<g id="s167" class="n b"><circle cx="406" cy="889" r="17"/><text x="406" y="896">s167</text></g>
<g id="s139" class="n b"><circle cx="265" cy="877" r="15"/><text x="265" y="884">s139</text></g>
<g id="s155" class="n b"><circle cx="722" cy="903" r="15"/><text x="722" y="910">s155</text></g>
<g id="s151" class="n b"><circle cx="647" cy="982" r="15"/><text x="647" y="989">s151</text></g>
<g id="s150" class="n b"><circle cx="715" cy="978" r="15"/><text x="715" y="985">s150</text></g>
<g id="s152" class="n b"><circle cx="631" cy="1071" r="15"/><text x="631" y="1078">s152</text></g>
<g id="s538" class="n p"><circle cx="470" cy="123" r="15"/><text x="470" y="130">s538</text></g>
<g id="s558" class="n p"><circle cx="628" cy="122" r="18"/><text x="628" y="129">s558</text></g>
<g id="s560" class="n p"><circle cx="705" cy="135" r="18"/><text x="705" y="142">s560</text></g>
<g id="s570" class="n p"><circle cx="788" cy="172" r="19"/><text x="788" y="179">s570</text></g>
<g id="s567" class="n p"><circle cx="710" cy="205" r="17"/><text x="710" y="212">s567</text></g>
<g id="s580" class="n p"><circle cx="775" cy="256" r="17"/><text x="775" y="263">s580</text></g>
<g id="s581" class="n p"><circle cx="662" cy="259" r="17"/><text x="662" y="266">s581</text></g>
<g id="s584" class="n p"><circle cx="916" cy="266" r="15"/><text x="916" y="273">s584</text></g>
<g id="s537" class="n p"><circle cx="380" cy="393" r="19"/><text x="380" y="400">s537</text></g>
<g id="s613" class="n p"><circle cx="943" cy="474" r="21"/><text x="943" y="481">s613</text></g>
<g id="s504" class="n p"><circle cx="886" cy="698" r="16"/><text x="886" y="705">s504</text></g>
<g id="s517" class="n p"><circle cx="957" cy="717" r="16"/><text x="957" y="724">s517</text></g>
<g id="s540" class="n p"><circle cx="199" cy="810" r="15"/><text x="199" y="817">s540</text></g>
<g id="s516" class="n p"><circle cx="425" cy="812" r="21"/><text x="425" y="819">s516</text></g>
<g id="s575" class="n p"><circle cx="310" cy="1009" r="17"/><text x="310" y="1016">s575</text></g>
<g id="s578" class="n p"><circle cx="377" cy="1042" r="15"/><text x="377" y="1049">s578</text></g>
<g id="s85" class="n a"><circle cx="353" cy="317" r="20"/><text x="353" y="324">s85</text></g>
<g id="s83" class="n a"><circle cx="90" cy="436" r="15"/><text x="90" y="443">s83</text></g>
<g id="s49" class="n a"><circle cx="805" cy="537" r="26"/><text x="805" y="544">s49</text></g>
<g id="s71" class="n a"><circle cx="573" cy="742" r="29"/><text x="573" y="749">s71</text></g>
<g id="s76" class="n a"><circle cx="830" cy="763" r="18"/><text x="830" y="770">s76</text></g>
<g id="s86" class="n a"><circle cx="493" cy="863" r="17"/><text x="493" y="870">s86</text></g>
<g id="s63" class="n a"><circle cx="863" cy="857" r="15"/><text x="863" y="864">s63</text></g>
<g id="s62" class="n a"><circle cx="803" cy="920" r="16"/><text x="803" y="927">s62</text></g>
<g id="Bet__CMY39" class="n y"><circle cx="605" cy="204" r="17"/><text x="606" y="212">Bet__CMY39</text></g>
<g id="Qui__norB" class="n y"><circle cx="568" cy="264" r="14"/><text x="569" y="272">Qui__norB</text></g>
<g id="Tet__tetO" class="n y"><circle cx="535" cy="342" r="20"/><text x="536" y="350">Tet__tetO</text></g>
<g id="Tet__tet40" class="n y"><circle cx="553" cy="407" r="19"/><text x="555" y="414">Tet__tet40</text></g>
<g id="Tet__tet32" class="n y"><circle cx="728" cy="366" r="20"/><text x="728" y="374">Tet__tet32</text></g>
<g id="Tet__tetM" class="n y"><circle cx="688" cy="430" r="20"/><text x="688" y="438">Tet__tetM</text></g>
<g id="Mul_ABC_transporter" class="n y"><circle cx="692" cy="487" r="29"/><text x="693" y="495">Mul_ABC_transporter</text></g>
<g id="Chl__catD" class="n y"><circle cx="452" cy="493" r="18"/><text x="452" y="500">Chl__catD</text></g>
<g id="Van__vanR" class="n y"><circle cx="567" cy="622" r="32"/><text x="567" y="629">Van__vanR</text></g>
<g id="Bet__PBP1A" class="n y"><circle cx="947" cy="340" r="22"/><text x="947" y="347">Bet__PBP1A</text></g>
<g id="Van__vanX" class="n y"><circle cx="75" cy="689" r="16"/><text x="76" y="697">Van__vanX</text></g>
<g id="Bet__CTXM147" class="n y"><circle cx="138" cy="852" r="14"/><text x="138" y="856">Bet__CTXM147</text></g>
<g id="Bet__CTXM16" class="n y"><circle cx="189" cy="909" r="15"/><text x="190" y="916">Bet__CTXM16</text></g>
<g id="Bet__CTXM" class="n y"><circle cx="325" cy="930" r="17"/><text x="317" y="938">Bet__CTXM</text></g>
<g id="Mul__emrE" class="n y"><circle cx="245" cy="966" r="16"/><text x="245" y="974">Mul__emrE</text></g>
<g id="Ami__aac3II" class="n y"><circle cx="402" cy="971" r="14"/><text x="401" y="978">Ami__aac3II</text></g>
<g id="Ami__aph6I" class="n y"><circle cx="450" cy="1070" r="15"/><text x="451" y="1077">Ami__aph6I</text></g>
<g id="Mul__mexA" class="n y"><circle cx="908" cy="788" r="15"/><text x="908" y="796">Mul__mexA</text></g>
<g id="Tet__tetP" class="n y"><circle cx="855" cy="971" r="14"/><text x="859" y="978">Tet__tetP</text></g>
<g id="MLS__ermX" class="n y"><circle cx="789" cy="1017" r="14"/><text x="791" y="1024">MLS__ermX</text></g>
</g>
<text class="N" x="924" y="1061">N = 1210</text>
</svg>
